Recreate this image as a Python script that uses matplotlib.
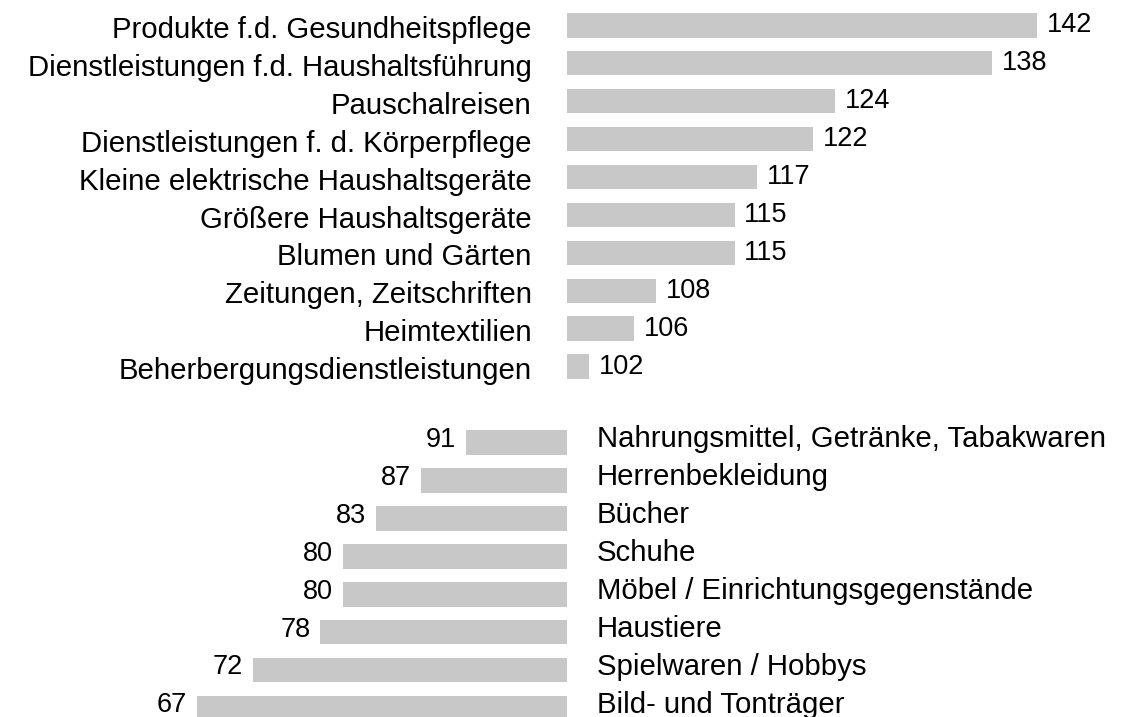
import matplotlib
matplotlib.use("Agg")
import matplotlib.pyplot as plt

plt.rcParams['font.family'] = ['Liberation Sans', 'DejaVu Sans']

#%% data (index, 100 = average)
top_labels = ["Produkte f.d. Gesundheitspflege", "Dienstleistungen f.d. Haushaltsführung",
              "Pauschalreisen", "Dienstleistungen f. d. Körperpflege",
              "Kleine elektrische Haushaltsgeräte", "Größere Haushaltsgeräte",
              "Blumen und Gärten", "Zeitungen, Zeitschriften", "Heimtextilien",
              "Beherbergungsdienstleistungen"]
top_values = [142, 138, 124, 122, 117, 115, 115, 108, 106, 102]

bottom_labels = ["Nahrungsmittel, Getränke, Tabakwaren", "Herrenbekleidung", "Bücher",
                 "Schuhe", "Möbel / Einrichtungsgegenstände", "Haustiere",
                 "Spielwaren / Hobbys", "Bild- und Tonträger"]
bottom_values = [91, 87, 83, 80, 80, 78, 72, 67]

base = 100
bar_col = '#c8c8c8'
fs = 21.2      # category labels
fs_val = 19.5  # value labels

#%% plot
fig = plt.figure(figsize=(11.29, 7.17), dpi=100)
ax = fig.add_axes([0, 0, 1, 1])

top_pos = list(range(len(top_values)))
bottom_pos = [len(top_values) + 1 + i for i in range(len(bottom_values))]

ax.barh(top_pos, [v - base for v in top_values], left=base, height=0.646, color=bar_col)
ax.barh(bottom_pos, [v - base for v in bottom_values], left=base, height=0.646, color=bar_col)

for y, lab, v in zip(top_pos, top_labels, top_values):
    ax.text(base - 3.1, y + 0.12, lab, ha='right', va='center', fontsize=fs)
    ax.text(v + 0.87, y, str(v), ha='left', va='center', fontsize=fs_val)

for y, lab, v in zip(bottom_pos, bottom_labels, bottom_values):
    ax.text(base + 2.7, y - 0.09, lab, ha='left', va='center', fontsize=fs)
    ax.text(v - 0.87, y - 0.07, str(v), ha='right', va='center', fontsize=fs_val)

ax.set_xlim(49.42, 150.22)
ax.set_ylim(18.236, -0.667)
ax.axis('off')

fig.savefig('out.png', dpi=100)
